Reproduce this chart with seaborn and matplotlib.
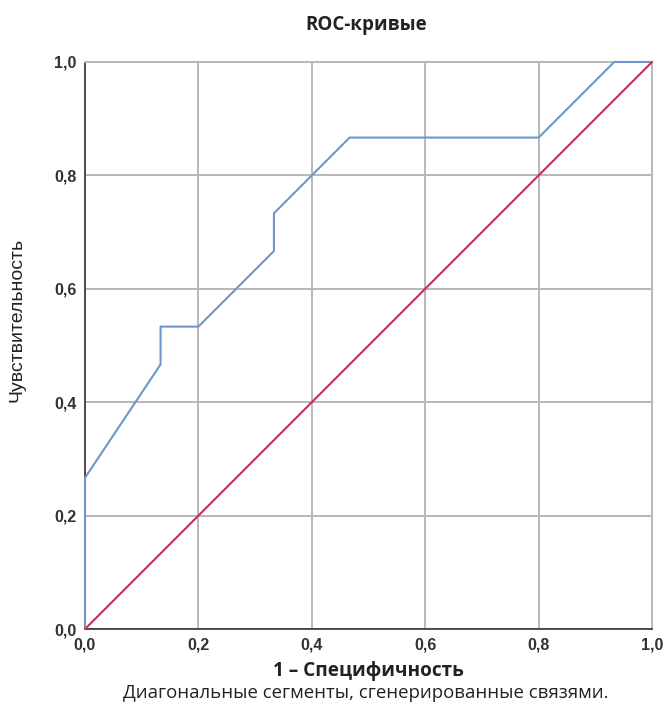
import matplotlib
matplotlib.use("Agg")
import matplotlib.pyplot as plt
import seaborn as sns
import pandas as pd

# ROC curve coordinates (1 - specificity, sensitivity)
fpr = [0.0, 0.0, 0.1333, 0.1333, 0.2, 0.3333, 0.3333, 0.4667, 0.8, 0.9333, 1.0]
tpr = [0.0, 0.2667, 0.4667, 0.5333, 0.5333, 0.6667, 0.7333, 0.8667, 0.8667, 1.0, 1.0]
ref_x = [0.0, 1.0]
ref_y = [0.0, 1.0]
ticks = [0.0, 0.2, 0.4, 0.6, 0.8, 1.0]
tick_labels = ["0,0", "0,2", "0,4", "0,6", "0,8", "1,0"]

sns.set_theme(style="white")
plt.rcParams["font.family"] = ["Open Sans", "DejaVu Sans"]

W, H = 665, 704
fig = plt.figure(figsize=(W / 100, H / 100), dpi=100)
ax = fig.add_axes([85 / W, 1 - 629 / H, 567 / W, 567 / H])

roc = pd.DataFrame({"x": fpr, "y": tpr})
diag = pd.DataFrame({"x": ref_x, "y": ref_y})
sns.lineplot(data=roc, x="x", y="y", sort=False, estimator=None, ax=ax,
             color="#6f96cc", linewidth=1.5, zorder=3, clip_on=False)
sns.lineplot(data=diag, x="x", y="y", sort=False, estimator=None, ax=ax,
             color="#c2305c", linewidth=1.5, zorder=4, clip_on=False)

ax.set_xlim(0, 1)
ax.set_ylim(0, 1)
ax.set_xticks(ticks)
ax.set_yticks(ticks)
tick_font = dict(family=["Liberation Sans", "DejaVu Sans"], fontsize=11.5,
                 fontweight="bold", color="#333333")
ax.set_xticklabels(tick_labels, **tick_font)
ax.set_yticklabels(tick_labels, **tick_font)
ax.grid(True, color="#b8b8b8", linewidth=1.4)
ax.set_axisbelow(True)

for side in ("top", "right"):
    ax.spines[side].set_color("#b8b8b8")
    ax.spines[side].set_linewidth(1.4)
for side in ("left", "bottom"):
    ax.spines[side].set_color("#333333")
    ax.spines[side].set_linewidth(1.2)

ax.tick_params(axis="x", length=0, pad=6)
ax.tick_params(axis="y", length=0, pad=6)
ax.set_xlabel("")
ax.set_ylabel("")

fig.text(366 / W, 1 - 25 / H, "ROC-кривые", ha="center", va="center",
         fontsize=13.5, fontweight="bold", color="#222222")
fig.text(17 / W, 1 - 320 / H, "Чувствительность", rotation=90,
         ha="center", va="center", fontsize=14,
         family=["Liberation Sans", "DejaVu Sans"], color="#222222")
fig.text(368 / W, 1 - 671 / H, "1 – Специфичность", ha="center", va="center",
         fontsize=13.7, fontweight="bold", color="#222222")
fig.text(366 / W, 1 - 693 / H, "Диагональные сегменты, сгенерированные связями.",
         ha="center", va="center", fontsize=13.4, color="#222222")

fig.savefig("out.png", dpi=100, facecolor="white")
